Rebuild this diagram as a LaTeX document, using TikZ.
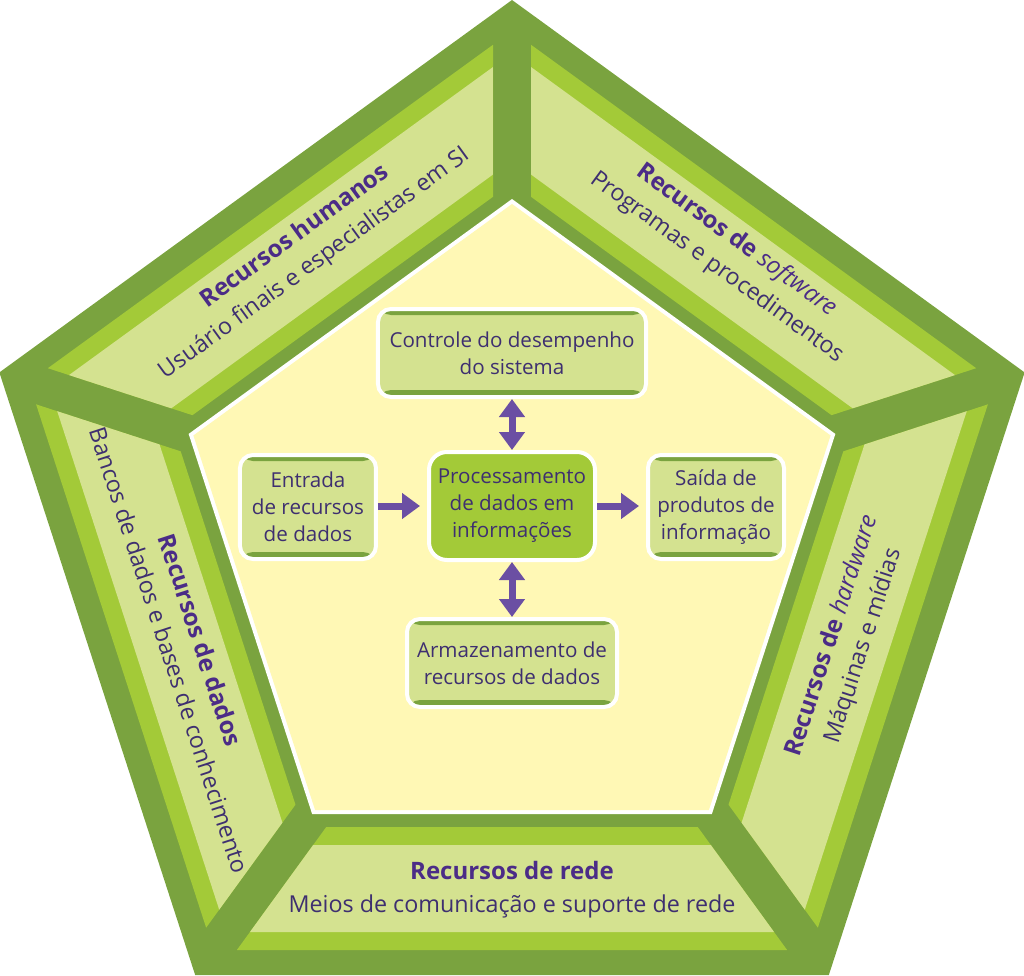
\documentclass[tikz,border=0pt]{standalone}
\usepackage{fontspec}
\setmainfont{Open Sans}
\usetikzlibrary{arrows.meta}
\definecolor{dkg}{HTML}{7AA33F}
\definecolor{brg}{HTML}{A3CA38}
\definecolor{plg}{HTML}{D4E290}
\definecolor{ylw}{HTML}{FFF8B5}
\definecolor{ttl}{HTML}{4B2C87}
\definecolor{txt}{HTML}{3E2F70}
\definecolor{arw}{HTML}{6B4FA3}
\newcommand{\segtitle}[1]{{\fontsize{24}{32}\selectfont\color{ttl}\bfseries #1}}
\begin{document}
\begin{tikzpicture}[x=1pt,y=1pt,
  box/.style={rectangle, rounded corners=13pt, fill=plg, draw=white, line width=4pt,
    inner sep=0pt, align=center, text=txt, font=\fontsize{20.6}{27}\selectfont,
    path picture={
      \fill[dkg] (path picture bounding box.north west) rectangle ([yshift=-6pt]path picture bounding box.north east);
      \fill[dkg] (path picture bounding box.south west) rectangle ([yshift=7pt]path picture bounding box.south east);
    }},
  cbox/.style={rectangle, rounded corners=18pt, fill=brg, draw=white, line width=4pt,
    inner sep=0pt, align=center, text=txt, font=\fontsize{20.6}{27}\selectfont},
  seglabel/.style={align=center, text=txt, font=\fontsize{23.3}{33}\selectfont},
  arrboth/.style={draw=arw, line width=7pt, arrows={Triangle[width=25pt,length=18pt]-Triangle[width=25pt,length=18pt]}},
  arrone/.style={draw=arw, line width=7pt, arrows={-Triangle[width=25pt,length=18pt]}}
]
\useasboundingbox (-512,-436) rectangle (512,539);
% outer pentagon
\fill[dkg] (90:539) -- (162:539) -- (234:539) -- (306:539) -- (18:539) -- cycle;
% segments
\foreach \k in {0,...,4} {
  \begin{scope}[rotate=\k*72]
    \fill[brg] (-185.76,-288) -- (185.76,-288) -- (275.12,-411) -- (-275.12,-411) -- cycle;
    \fill[plg] (-198.83,-306) -- (198.83,-306) -- (262.04,-393) -- (-262.04,-393) -- cycle;
  \end{scope}
}
% inner pentagon
\fill[white] (90:340) -- (162:340) -- (234:340) -- (306:340) -- (18:340) -- cycle;
\fill[ylw] (90:335) -- (162:335) -- (234:335) -- (306:335) -- (18:335) -- cycle;

% segment labels
\node[seglabel, rotate=36] (hum) at (-207,289)
  {\segtitle{Recursos humanos}\\Usuário finais e especialistas em SI};
\node[seglabel, rotate=-36] (soft) at (215,285)
  {\segtitle{Recursos de \normalfont\itshape software}\\Programas e procedimentos};
\node[seglabel, rotate=72] (hard) at (336,-102)
  {\segtitle{Recursos de \normalfont\itshape hardware}\\Máquinas e mídias};
\node[seglabel, rotate=-72] (dados) at (-327,-106)
  {\segtitle{Recursos de dados}\\Bancos de dados e bases de conhecimento};
\node[seglabel] (rede) at (0,-351)
  {\segtitle{Recursos de rede}\\Meios de comunicação e suporte de rede};

% boxes
\node[box, minimum width=268pt, minimum height=88pt] (ctrl) at (0,186)
  {Controle do desempenho\\do sistema};
\node[box, minimum width=136pt, minimum height=104pt] (entr) at (-204,32)
  {Entrada\\de recursos\\de dados};
\node[cbox, minimum width=166pt, minimum height=108pt] (proc) at (0,33)
  {Processamento\\de dados em\\informações};
\node[box, minimum width=136pt, minimum height=104pt] (said) at (204,32)
  {Saída de\\produtos de\\informação};
\node[box, minimum width=210pt, minimum height=88pt] (arm) at (0,-124)
  {Armazenamento de\\recursos de dados};

% arrows
\draw[arrboth] (ctrl) -- (proc);
\draw[arrboth] (proc) -- (arm);
\draw[arrone, shorten >=7pt] (entr.east |- proc.west) -- (proc.west);
\draw[arrone, shorten >=7pt] (proc.east) -- (said.west |- proc.east);
\end{tikzpicture}
\end{document}
